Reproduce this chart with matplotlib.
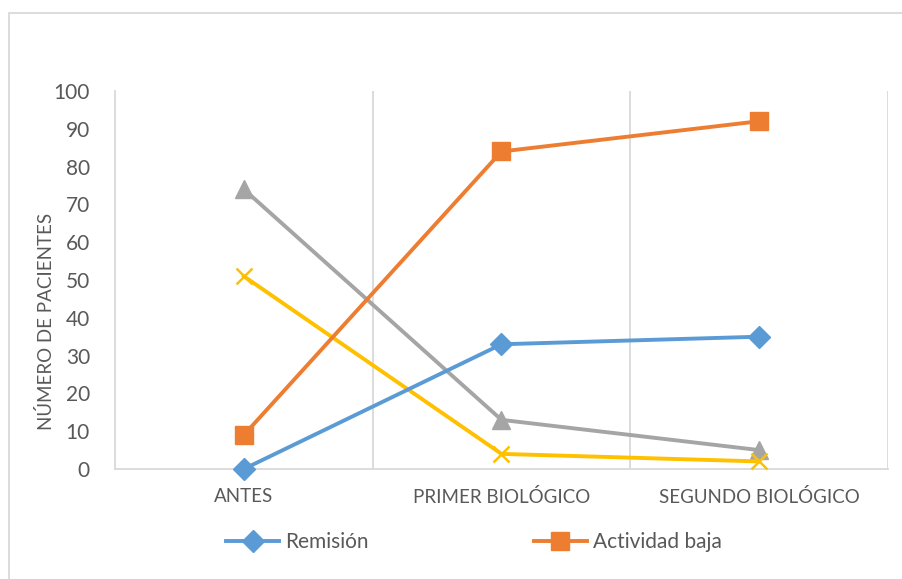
import matplotlib
matplotlib.use('Agg')
import matplotlib.pyplot as plt
from matplotlib.patches import Rectangle

# datos por etapa de tratamiento
etapas = ['ANTES', 'PRIMER BIOLÓGICO', 'SEGUNDO BIOLÓGICO']
remision = [0, 33, 35]
actividad_baja = [9, 84, 92]
actividad_moderada = [74, 13, 5]
actividad_alta = [51, 4, 2]

plt.rcParams['font.family'] = ['Lato', 'DejaVu Sans']
texto = '#595959'
rejilla = '#d9d9d9'

fig = plt.figure(figsize=(9.03, 5.79), dpi=100)
ax = fig.add_axes([115/903, 1-469/579, (888-115)/903, (469-91)/579])

x = list(range(len(etapas)))
lw = 2.8
l1, = ax.plot(x, remision, color='#5B9BD5', lw=lw, marker='D', ms=11.5,
              label='Remisión', clip_on=False, zorder=5)
l2, = ax.plot(x, actividad_baja, color='#ED7D31', lw=lw, marker='s', ms=12.5,
              label='Actividad baja', clip_on=False, zorder=5)
ax.plot(x, actividad_moderada, color='#A5A5A5', lw=lw, marker='^', ms=12.5,
        label='Actividad moderada', clip_on=False, zorder=4)
ax.plot(x, actividad_alta, color='#FFC000', lw=lw, marker='x', ms=12, mew=1.8,
        label='Actividad alta', clip_on=False, zorder=4)

ax.set_xlim(-0.5, len(etapas) - 0.5)
ax.set_ylim(0, 100)
ax.set_yticks(range(0, 101, 10))
ax.set_xticks(x)
ax.set_xticklabels(etapas, fontsize=13.5, color=texto)
ax.tick_params(axis='y', labelsize=15, labelcolor=texto, length=0, pad=18)
ax.tick_params(axis='x', length=0, pad=14)

# separadores verticales entre etapas
for b in [0.5, 1.5, 2.5]:
    ax.axvline(b, color=rejilla, lw=1.3, zorder=0)
for s in ['top', 'right']:
    ax.spines[s].set_visible(False)
for s in ['left', 'bottom']:
    ax.spines[s].set_color(rejilla)
    ax.spines[s].set_linewidth(1.3)

ax.set_ylabel('NÚMERO DE PACIENTES', fontsize=13.5, color=texto)
ax.yaxis.set_label_coords(-0.077, 0.39)

fig.legend(handles=[l1, l2], loc='center', ncol=2, frameon=False,
           bbox_to_anchor=(474/903, 1-542/579), fontsize=15,
           handlelength=2.55, handletextpad=0.3, columnspacing=7.9,
           labelcolor=texto)

# marco del gráfico
fig.patches.append(Rectangle((9/903, -0.1), 1.2, 1-13/579+0.1,
                             transform=fig.transFigure, fill=False,
                             edgecolor=rejilla, lw=1.3))

fig.savefig('out.png', dpi=100)
